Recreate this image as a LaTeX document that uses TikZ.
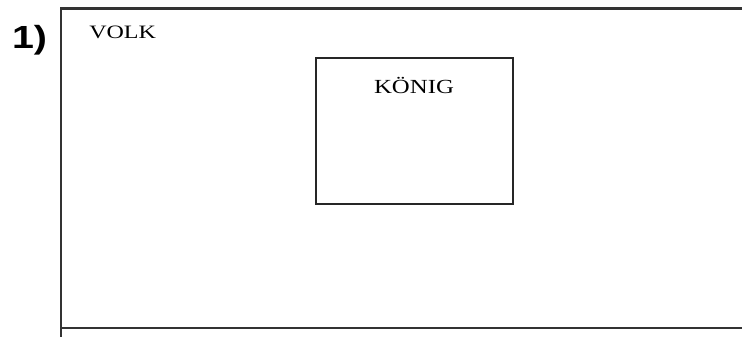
\documentclass[tikz,border=0pt]{standalone}
\usepackage{graphicx}
\usepackage{fontspec}
\setmainfont{Liberation Serif}
\newfontfamily\numfont{Liberation Sans}
\begin{document}
\begin{tikzpicture}[x=0.75pt,y=-0.75pt,
  frameline/.style={line width=1.6pt, draw=black!80},
  innerbox/.style={draw=black!85, line width=1.2pt, minimum width=147.75pt, minimum height=109.5pt, inner sep=0pt},
  volktext/.style={inner sep=0pt, font=\fontsize{14.2}{17}\selectfont},
  koenigtext/.style={inner sep=0pt, font=\fontsize{15}{18}\selectfont},
  numtext/.style={inner sep=0pt, font=\numfont\bfseries\fontsize{24}{28}\selectfont}]
\useasboundingbox (0,0) rectangle (742,337);
\coordinate (tl) at (61,8.5);
\coordinate (tr) at (742,8.5);
\coordinate (lb) at (61,337);
\coordinate (bl) at (61,328);
\coordinate (br) at (742,328);
\draw[frameline] (tr) -- (tl) -- (lb);
\draw[frameline] (bl) -- (br);
\node[numtext, anchor=base] (num) at (29.5,48.5) {\scalebox{1.23}[1]{1)}};
\node[volktext, anchor=base west] (volk) at (89,38.3) {\scalebox{1.27}[1]{VOLK}};
\node[innerbox] (koenigbox) at (414.5,131) {};
\node[koenigtext, anchor=base] (koenig) at (414,93) {\scalebox{1.24}[1]{KÖNIG}};
\end{tikzpicture}
\end{document}
